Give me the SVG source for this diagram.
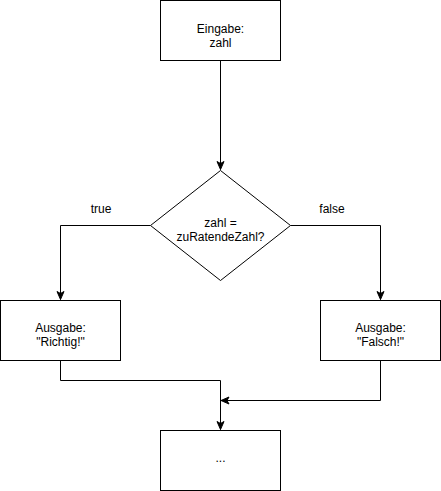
<svg xmlns="http://www.w3.org/2000/svg" width="441" height="491" viewBox="0 0 441 491">
<defs>
<style>
.box{fill:#fff;stroke:#000;stroke-width:1}
.t{font-family:"Liberation Sans",Arial,sans-serif;font-size:12px;fill:#000;text-anchor:middle}
.c{fill:none;stroke:#000;stroke-width:1}
</style>
<marker id="arr" markerUnits="userSpaceOnUse" markerWidth="10" markerHeight="10" viewBox="0 0 10 10" refX="9" refY="5" orient="auto">
<path d="M1,1.5 L9,5 L1,8.5 L3,5 Z" fill="#000" stroke="#000" stroke-width="1"/>
</marker>
</defs>
<rect width="441" height="491" fill="#fff"/>
<g id="connectors">
<path class="c" d="M220.5,60.5 V169.5" marker-end="url(#arr)"/>
<path class="c" d="M150.5,225.5 H60.5 V299.5" marker-end="url(#arr)"/>
<path class="c" d="M290.5,225.5 H380.5 V299.5" marker-end="url(#arr)"/>
<path class="c" d="M60.5,360.5 V380.5 H220.5 V429.5" marker-end="url(#arr)"/>
<path class="c" d="M380.5,360.5 V400.5 H221" marker-end="url(#arr)"/>
<text class="t" x="101" y="213">true</text>
<text class="t" x="332" y="213">false</text>
</g>
<g id="eingabe">
<rect class="box" x="160.5" y="0.5" width="120" height="60"/>
<text class="t" x="220.5" y="33">Eingabe:</text>
<text class="t" x="220.5" y="47">zahl</text>
</g>
<g id="entscheidung">
<path class="box" d="M220.5,170.5 L290.5,225.5 L220.5,280.5 L150.5,225.5 Z"/>
<text class="t" x="220.5" y="227">zahl =</text>
<text class="t" x="220.5" y="241">zuRatendeZahl?</text>
</g>
<g id="richtig">
<rect class="box" x="0.5" y="300.5" width="120" height="60"/>
<text class="t" x="60.5" y="332">Ausgabe:</text>
<text class="t" x="60.5" y="346">"Richtig!"</text>
</g>
<g id="falsch">
<rect class="box" x="320.5" y="300.5" width="120" height="60"/>
<text class="t" x="380.5" y="332">Ausgabe:</text>
<text class="t" x="380.5" y="346">"Falsch!"</text>
</g>
<g id="ende">
<rect class="box" x="160.5" y="430.5" width="120" height="60"/>
<text class="t" x="220.5" y="462">...</text>
</g>
</svg>
